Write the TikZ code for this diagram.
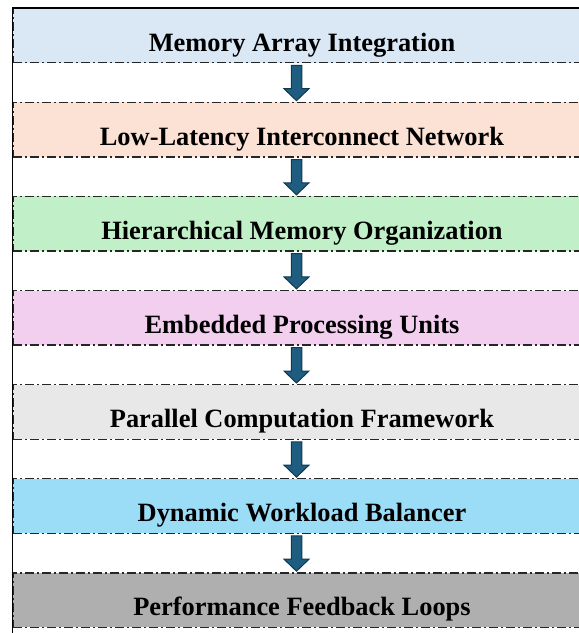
\documentclass[tikz,border=0pt]{standalone}
\usepackage{fontspec}
\setmainfont{Liberation Serif}
\usetikzlibrary{calc}
\definecolor{memblue}{HTML}{DAE7F5}
\definecolor{netpeach}{HTML}{FBE2D5}
\definecolor{hiergreen}{HTML}{C1F0C8}
\definecolor{embpink}{HTML}{F2CEEF}
\definecolor{pargrey}{HTML}{E8E8E8}
\definecolor{dynsky}{HTML}{9BDCF7}
\definecolor{perfgrey}{HTML}{AFAFAF}
\definecolor{flowfill}{HTML}{1E5D80}
\definecolor{flowedge}{HTML}{0E3A52}
\begin{document}
\begin{tikzpicture}[x=1pt, y=-1pt,
  stage/.style={draw=black!85, line width=1.3pt, dash pattern=on 9pt off 3pt on 2pt off 3pt,
    minimum width=578pt, minimum height=54.5pt, inner sep=0pt,
    text height=34pt, text depth=2.5pt, font=\fontsize{26.4}{30}\selectfont\bfseries},
  flow/.style={fill=flowfill, draw=flowedge, line width=1pt}]
\useasboundingbox (0,0) rectangle (579,633);
\clip (0,0) rectangle (579,633);

% stages
\foreach \i/\col/\txt in {0/memblue/Memory Array Integration,
    1/netpeach/Low-Latency Interconnect Network,
    2/hiergreen/Hierarchical Memory Organization,
    3/embpink/Embedded Processing Units,
    4/pargrey/Parallel Computation Framework,
    5/dynsky/Dynamic Workload Balancer,
    6/perfgrey/Performance Feedback Loops}
  \node[stage, fill=\col] (m\i) at (302, {35.5+94.1*\i}) {\txt};

% block arrows between stages
\foreach \a [count=\b] in {0,...,5}
  \draw[flow] let \p1=(m\a.south), \p2=(m\b.north) in
    ({\x1-10.75pt},{\y1-2pt}) -- ({\x1-0.25pt},{\y1-2pt}) -- ({\x1-0.25pt},{\y2+13pt})
    -- ({\x1+7pt},{\y2+13pt}) -- ({\x1-5.5pt},{\y2+1pt}) -- ({\x1-18pt},{\y2+13pt})
    -- ({\x1-10.75pt},{\y2+13pt}) -- cycle;

% frame
\draw[line width=1.3pt] (12.5,633) -- (12.5,8) -- (579,8);
\end{tikzpicture}
\end{document}
